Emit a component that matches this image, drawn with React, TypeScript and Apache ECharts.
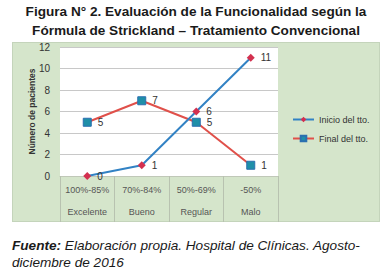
import React, { useEffect, useRef } from "react";
import * as echarts from "echarts";

const rangos = ["100%-85%", "70%-84%", "50%-69%", "-50%"];
const niveles = ["Excelente", "Bueno", "Regular", "Malo"];
const inicio = [0, 1, 6, 11];
const final = [5, 7, 5, 1];
const yTicks = { min: 0, max: 12, interval: 2 };

export default function App() {
  const ref = useRef<HTMLDivElement>(null);
  useEffect(() => {
    const chart = echarts.init(ref.current!, null, { renderer: "svg" });
    const font = "Liberation Sans, Arial, sans-serif";
    const cats = rangos.map((r, i) => `${r}\n${niveles[i]}`);
    chart.setOption({
      animation: false,
      backgroundColor: "transparent",
      textStyle: { fontFamily: font },
      title: {
        text: "Figura N° 2. Evaluación de la Funcionalidad según la\nFórmula de Strickland – Tratamiento Convencional",
        left: "center",
        top: 2,
        padding: 0,
        textStyle: { fontSize: 13.6, fontWeight: "bold", color: "#1a1a1a", lineHeight: 19, fontFamily: font },
      },
      graphic: [
        {
          type: "text",
          left: 12,
          top: 237,
          style: {
            text: "{b|Fuente:} Elaboración propia. Hospital de Clínicas. Agosto-\ndiciembre de 2016",
            fontSize: 13.6,
            fontStyle: "italic",
            fontFamily: font,
            fill: "#1a1a1a",
            lineHeight: 17,
            rich: { b: { fontWeight: "bold", fontStyle: "italic", fontSize: 13.6, fontFamily: font, fill: "#1a1a1a" } },
          },
        },
      ],
      legend: {
        orient: "vertical",
        left: 292,
        top: 115,
        padding: 0,
        itemGap: 10,
        itemWidth: 21,
        itemHeight: 7,
        textStyle: { fontSize: 9, color: "#333" },
        data: ["Inicio del tto.", "Final del tto."],
      },
      grid: {
        left: 60,
        right: 114,
        top: 47,
        bottom: 94,
        show: true,
        backgroundColor: "#ffffff",
        borderWidth: 0,
      },
      xAxis: {
        type: "category",
        data: cats,
        boundaryGap: true,
        axisLine: { show: true, lineStyle: { color: "#c0c8b8" } },
        axisTick: { show: true, length: 46, lineStyle: { color: "#b8c2b0" } },
        axisLabel: {
          interval: 0,
          fontSize: 9,
          color: "#555",
          lineHeight: 22,
          margin: 3,
        },
      },
      yAxis: {
        type: "value",
        min: yTicks.min,
        max: yTicks.max,
        interval: yTicks.interval,
        name: "Número de pacientes",
        nameLocation: "middle",
        nameRotate: 90,
        nameGap: 24,
        nameMoveOverlap: false,
        nameTextStyle: { fontSize: 8.5, fontWeight: "bold", color: "#333" },
        axisLine: { show: false },
        axisTick: { show: false },
        axisLabel: { fontSize: 10, color: "#333", margin: 10 },
        splitLine: { lineStyle: { color: "#c8c8c8" } },
      },
      series: [
        {
          name: "Inicio del tto.",
          type: "line",
          data: inicio,
          symbol: "diamond",
          symbolSize: 8,
          lineStyle: { color: "#3282c4", width: 2 },
          itemStyle: { color: "#d3304f" },
          label: { show: true, position: "right", fontSize: 10, color: "#333", distance: 6 },
          z: 3,
        },
        {
          name: "Final del tto.",
          type: "line",
          data: final,
          symbol: "rect",
          symbolSize: 8,
          lineStyle: { color: "#e0504a", width: 2 },
          itemStyle: { color: "#1f8fa8", borderColor: "#2b6fb0", borderWidth: 1 },
          label: { show: true, position: "right", fontSize: 10, color: "#333", distance: 6 },
          z: 2,
        },
      ],
    });
    return () => chart.dispose();
  }, []);
  return (
    <div style={{ position: "fixed", left: 0, top: 0, width: 392, height: 270, background: "#ffffff" }}>
      <div
        style={{
          position: "absolute",
          left: 12,
          top: 42,
          width: 368,
          height: 180,
          background: "#d5e5cb",
          boxSizing: "border-box",
          border: "1px solid #c4d4bb",
        }}
      />
      <div ref={ref} style={{ position: "absolute", left: 0, top: 0, width: 392, height: 270 }} />
    </div>
  );
}
